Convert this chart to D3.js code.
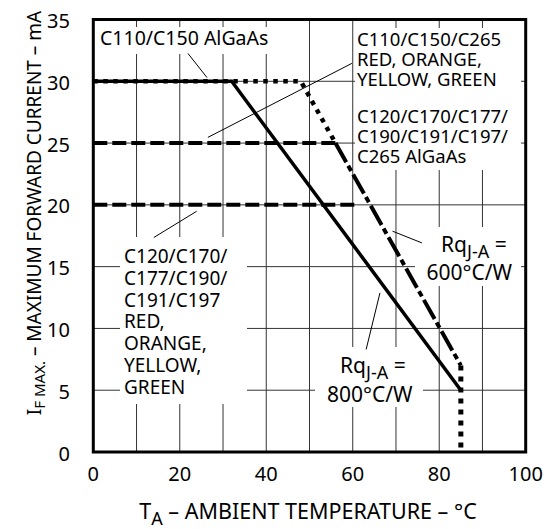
<!DOCTYPE html>
<html><head><meta charset="utf-8">
<script src="https://cdn.jsdelivr.net/npm/d3@7"></script>
<style>
body{margin:0;background:#fff}
svg{display:block}
text{font-family:"Noto Sans",sans-serif;fill:#000}
</style>
</head><body>
<svg id="c" width="549" height="529"></svg>
<script>
// ---- data ----
const xTicks = [0, 20, 40, 60, 80, 100];
const yTicks = [0, 5, 10, 15, 20, 25, 30, 35];
const xGrid = [10, 20, 30, 40, 50, 60, 70, 80, 90];
const yGrid = [5, 10, 15, 20, 25, 30];

// Rq 800 °C/W solid curve
const curve800T = [0, 32, 85];
const curve800I = [30, 30, 5];
// C110/C150/C265 dotted curve
const curveDotT = [0, 48, 56];
const curveDotI = [30, 30, 25];
// 25 mA dashed plateau
const dash25T = [0, 56];
const dash25I = [25, 25];
// 20 mA dashed plateau
const dash20T = [0, 61];
const dash20I = [20, 20];
// Rq 600 °C/W dash-dot curve
const curve600T = [56, 85];
const curve600I = [25, 7];
// vertical drop at 85 °C
const dropT = [85, 85];
const dropI = [7, 0];

// leader lines [T1, I1, T2, I2]
const leaders = [
  [21.9, 32.25, 26.3, 30.3],
  [59.8, 31.45, 26.5, 25.46],
  [23.9, 19.48, 14.0, 17.36],
  [69.2, 17.87, 76.0, 16.92],
  [66.3, 12.88, 63.1, 8.30]
];

// label texts
const labelTopLeft = ["C110/C150 AlGaAs"];
const labelRight1 = ["C110/C150/C265", "RED, ORANGE,", "YELLOW, GREEN"];
const labelRight2 = ["C120/C170/C177/", "C190/C191/C197/", "C265 AlGaAs"];
const labelLeft = ["C120/C170/", "C177/C190/", "C191/C197", "RED,", "ORANGE,", "YELLOW,", "GREEN"];

// ---- layout ----
const svg = d3.select("#c");
const x = d3.scaleLinear().domain([0, 100]).range([93.3, 525.7]);
const y = d3.scaleLinear().domain([0, 35]).range([452, 19.5]);

// grid
const g = svg.append("g");
g.selectAll(".vg").data(xGrid).join("line")
  .attr("x1", d => x(d)).attr("x2", d => x(d))
  .attr("y1", y(0)).attr("y2", y(35))
  .attr("stroke", "#333").attr("stroke-width", 1);
g.selectAll(".hg").data(yGrid).join("line")
  .attr("y1", d => y(d)).attr("y2", d => y(d))
  .attr("x1", x(0)).attr("x2", x(100))
  .attr("stroke", "#333").attr("stroke-width", 1);

// white label boxes (interrupt grid)
const boxes = [
  [97, 27, 178, 27],
  [355, 28, 166, 142],
  [120, 237, 127, 167],
  [415, 227, 106, 59],
  [315, 347, 108, 60]
];
svg.append("g").selectAll("rect").data(boxes).join("rect")
  .attr("x", d => d[0]).attr("y", d => d[1])
  .attr("width", d => d[2]).attr("height", d => d[3])
  .attr("fill", "#fff");

// frame
svg.append("rect")
  .attr("x", x(0)).attr("y", y(35))
  .attr("width", x(100) - x(0)).attr("height", y(0) - y(35))
  .attr("fill", "none").attr("stroke", "#000").attr("stroke-width", 3);

// leaders
svg.append("g").selectAll("line").data(leaders).join("line")
  .attr("x1", d => x(d[0])).attr("y1", d => y(d[1]))
  .attr("x2", d => x(d[2])).attr("y2", d => y(d[3]))
  .attr("stroke", "#000").attr("stroke-width", 1);

// curves
const line = d3.line().x(d => x(d[0])).y(d => y(d[1]));
function draw(T, I, w, dash) {
  svg.append("path")
    .attr("d", line(T.map((t, i) => [t, I[i]])))
    .attr("fill", "none").attr("stroke", "#000")
    .attr("stroke-width", w)
    .attr("stroke-dasharray", dash)
    .attr("stroke-linecap", "butt")
    .attr("stroke-linejoin", "miter");
}
draw(dash20T, dash20I, 4, "14,5");
draw(dash25T, dash25I, 4, "14,5");
draw(curve800T, curve800I, 3.5, null);
draw(curveDotT, curveDotI, 4.5, "4.5,5.5");
draw(curve600T, curve600I, 4, "22,4,6,4");
draw(dropT, dropI, 5, "5,6");

// tick labels
svg.append("g").selectAll("text").data(xTicks).join("text")
  .attr("x", d => x(d)).attr("y", y(0) + 28.5)
  .attr("text-anchor", "middle").attr("font-size", 20)
  .text(d => d);
svg.append("g").selectAll("text").data(yTicks).join("text")
  .attr("x", 70).attr("y", d => y(d) + 8.5)
  .attr("text-anchor", "end").attr("font-size", 20)
  .text(d => d);

// axis titles
const xt = svg.append("text").attr("x", 308).attr("y", 519)
  .attr("text-anchor", "middle").attr("font-size", 21.5);
xt.append("tspan").text("T");
xt.append("tspan").attr("dy", 6).attr("font-size", 18).text("A");
xt.append("tspan").attr("dy", -6).text(" – AMBIENT TEMPERATURE – °C");

const yt = svg.append("text")
  .attr("transform", "translate(41,213) rotate(-90)")
  .attr("text-anchor", "middle").attr("font-size", 19);
yt.append("tspan").text("I");
yt.append("tspan").attr("dy", 4).attr("font-size", 15).text("F MAX.");
yt.append("tspan").attr("dy", -4).text(" – MAXIMUM FORWARD CURRENT – mA");

// labels (one text element per block)
const fs = 19;
function block(lines, x0, y0, step, size) {
  const t = svg.append("text").attr("x", x0).attr("y", y0).attr("font-size", size);
  t.selectAll("tspan").data(lines).join("tspan")
    .attr("x", x0).attr("dy", (d, i) => i === 0 ? 0 : step)
    .text(d => d);
}
block(labelTopLeft, 100, 45, 0, 19.5);
block(labelRight1, 357, 46, 20, 18.5);
block(labelRight2, 357, 122.7, 20, 18.5);
block(labelLeft, 124, 263.3, 21.7, fs);

function rq(xr, yr, x2, val) {
  const t = svg.append("text").attr("x", xr).attr("y", yr).attr("font-size", 21);
  t.append("tspan").text("Rq");
  t.append("tspan").attr("dy", 6).attr("font-size", 18).text("J-A");
  t.append("tspan").attr("dy", -6).text(" =");
  svg.append("text").attr("x", x2).attr("y", yr + 28.5).attr("font-size", 21).text(val);
}
rq(441, 251.7, 426.5, "600°C/W");
rq(340, 373.3, 327, "800°C/W");
</script>
</body></html>
